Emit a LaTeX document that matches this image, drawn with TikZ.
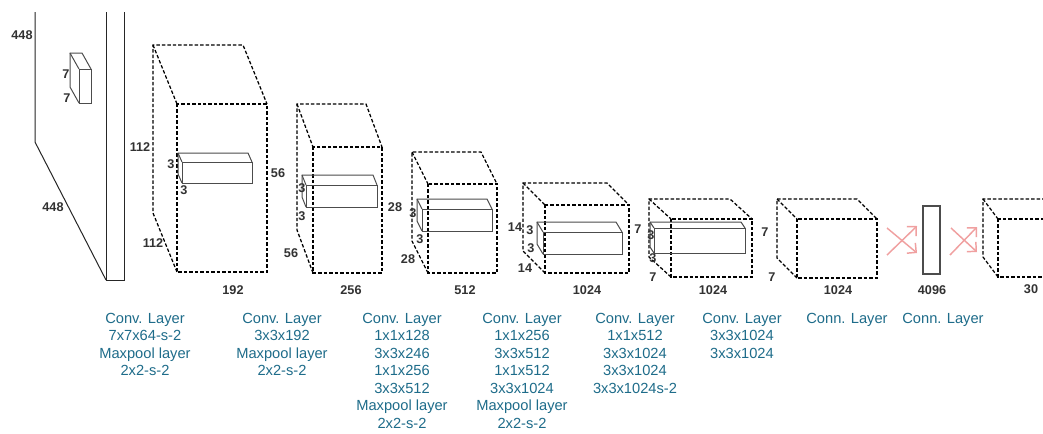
\documentclass[tikz,border=0pt]{standalone}
\usepackage{fontspec}
\setmainfont{Liberation Sans}
\usetikzlibrary{arrows.meta}
\definecolor{labteal}{RGB}{30,108,138}
\definecolor{numgray}{RGB}{50,50,50}
\definecolor{arrowpink}{RGB}{240,160,160}
\newcommand{\drawcuboid}[7]{%
  \draw[#1] (#2,#3) rectangle (#4,#5);
  \draw[#1] (#2,#5) -- (#2-#6,#5-#7) -- (#2-#6,#3-#7) -- (#4-#6,#3-#7) -- (#4,#3);
  \draw[#1] (#2-#6,#3-#7) -- (#2,#3);
}
\begin{document}
\begin{tikzpicture}[x=0.75pt,y=-0.75pt,
  cubeline/.style={line width=0.95pt, dash pattern=on 2.6pt off 1.5pt, black},
  kernline/.style={line width=0.75pt, black!70},
  inputline/.style={line width=0.75pt, black!85},
  num/.style={font=\fontsize{9.5}{11}\selectfont\bfseries, text=numgray, inner sep=0pt},
  layertext/.style={font=\fontsize{11}{13.1}\selectfont, text=labteal, align=center, anchor=north, inner sep=0pt},
  pinkarrow/.style={line width=1.1pt, arrowpink, -{Straight Barb[length=5pt,width=10pt]}}]
\useasboundingbox (0,0) rectangle (1043,433);
\fill[white] (0,0) rectangle (1043,433);

% input image
\draw[inputline] (35,12) -- (35,142) -- (106,280);
\draw[inputline] (106,12) -- (106,280) -- (124,280) -- (124,12);
\drawcuboid{kernline}{79}{69}{91}{103}{9}{16}
\node[num] (in1) at (22,35) {448};
\node[num] (in2) at (53,207) {448};
\node[num] (in3) at (66,74) {7};
\node[num] (in4) at (67,98) {7};

% cube 1
\drawcuboid{cubeline}{177}{104}{267}{272}{24}{59}
\drawcuboid{kernline}{182}{162}{252}{183}{4}{9}
\node[num] (c1a) at (140,147) {112};
\node[num] (c1b) at (153,243) {112};
\node[num] (c1c) at (233,290) {192};
\node[num] (k1a) at (171,164) {3};
\node[num] (k1b) at (184,190) {3};

% cube 2
\drawcuboid{cubeline}{313}{147}{382}{273}{16}{43}
\drawcuboid{kernline}{306}{185}{377}{207}{4}{10}
\node[num] (c2a) at (278,173) {56};
\node[num] (c2b) at (291,253) {56};
\node[num] (c2c) at (351,290) {256};
\node[num] (k2a) at (302,188) {3};
\node[num] (k2b) at (302,216) {3};

% cube 3
\drawcuboid{cubeline}{428}{184}{497}{273}{16}{32}
\drawcuboid{kernline}{422}{209}{492}{231}{5}{10}
\node[num] (c3a) at (395,207) {28};
\node[num] (c3b) at (408,259) {28};
\node[num] (c3c) at (465,290) {512};
\node[num] (k3a) at (413,213) {3};
\node[num] (k3b) at (420,239) {3};

% cube 4
\drawcuboid{cubeline}{545}{205}{629}{273}{22}{22}
\drawcuboid{kernline}{543}{232}{622}{254}{6}{10}
\node[num] (c4a) at (515,227) {14};
\node[num] (c4b) at (525,268) {14};
\node[num] (c4c) at (587,290) {1024};
\node[num] (k4a) at (530,230) {3};
\node[num] (k4b) at (531,248) {3};

% cube 5
\drawcuboid{cubeline}{671}{219}{752}{277}{22}{20}
\drawcuboid{kernline}{654}{228}{745}{253}{4}{6}
\node[num] (c5a) at (638,229) {7};
\node[num] (c5b) at (653,277) {7};
\node[num] (c5c) at (713,290) {1024};
\node[num] (k5a) at (651,235) {3};
\node[num] (k5b) at (653,258) {3};

% cube 6
\drawcuboid{cubeline}{797}{219}{877}{278}{20}{20}
\node[num] (c6a) at (765,232) {7};
\node[num] (c6b) at (772,277) {7};
\node[num] (c6c) at (838,290) {1024};

% fully connected
\coordinate (a1s) at (887,255); \coordinate (a1e) at (917,226);
\coordinate (a2s) at (887,228); \coordinate (a2e) at (917,253);
\draw[pinkarrow] (a1s) -- (a1e);
\draw[pinkarrow] (a2s) -- (a2e);
\draw[kernline, line width=0.9pt] (923,206) rectangle (940,274);
\node[num] (fc1) at (932,290) {4096};
\coordinate (b1s) at (950,255); \coordinate (b1e) at (977,227);
\coordinate (b2s) at (951,228); \coordinate (b2e) at (977,252);
\draw[pinkarrow] (b1s) -- (b1e);
\draw[pinkarrow] (b2s) -- (b2e);

% cube 7 (cut at right edge)
\begin{scope}
\clip (0,0) rectangle (1043,433);
\drawcuboid{cubeline}{998}{219}{1078}{277}{15}{20}
\end{scope}
\node[num] (c7c) at (1031,289) {30};

% layer texts
\node[layertext] (t1) at (145,313) {Conv. Layer\\7x7x64-s-2\\Maxpool layer\\2x2-s-2};
\node[layertext] (t2) at (282,313) {Conv. Layer\\3x3x192\\Maxpool layer\\2x2-s-2};
\node[layertext] (t3) at (402,313) {Conv. Layer\\1x1x128\\3x3x246\\1x1x256\\3x3x512\\Maxpool layer\\2x2-s-2};
\node[layertext] (t4) at (522,313) {Conv. Layer\\1x1x256\\3x3x512\\1x1x512\\3x3x1024\\Maxpool layer\\2x2-s-2};
\node[layertext] (t5) at (635,313) {Conv. Layer\\1x1x512\\3x3x1024\\3x3x1024\\3x3x1024s-2};
\node[layertext] (t6) at (742,313) {Conv. Layer\\3x3x1024\\3x3x1024};
\node[layertext] (t7) at (847,313) {Conn. Layer};
\node[layertext] (t8) at (943,313) {Conn. Layer};
\end{tikzpicture}
\end{document}
